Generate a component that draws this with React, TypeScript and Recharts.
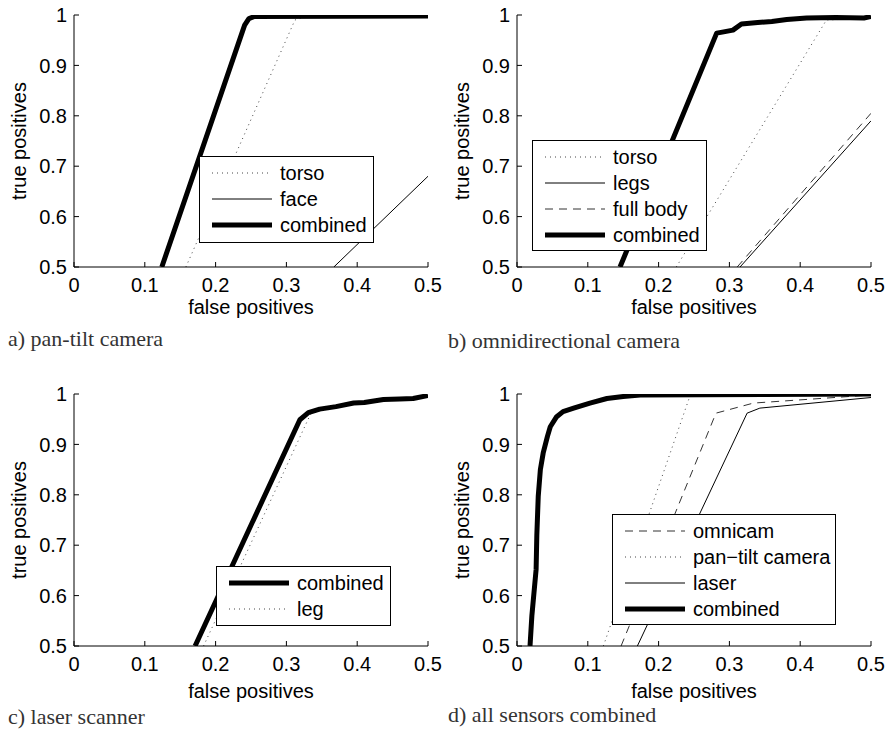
import React from 'react';
import { LineChart, Line, XAxis, YAxis, Legend, Label } from 'recharts';

type Pt = [number, number];

// a) pan-tilt camera  [false positives, true positives]
const aTorso: Pt[] = [[0.158, 0.5], [0.312, 0.99], [0.33, 0.998], [0.5, 0.998]];
const aFace: Pt[] = [[0.367, 0.5], [0.5, 0.68]];
const aCombined: Pt[] = [[0.124, 0.5], [0.241, 0.98], [0.247, 0.993], [0.255, 0.997], [0.5, 0.998]];

// b) omnidirectional camera
const bTorso: Pt[] = [[0.225, 0.5], [0.437, 0.99], [0.5, 0.994]];
const bLegs: Pt[] = [[0.315, 0.5], [0.5, 0.79]];
const bFullBody: Pt[] = [[0.311, 0.5], [0.5, 0.805]];
const bCombined: Pt[] = [
  [0.1455, 0.5], [0.282, 0.964], [0.29, 0.966], [0.305, 0.97], [0.317, 0.982], [0.34, 0.985],
  [0.36, 0.987], [0.381, 0.991], [0.409, 0.994], [0.45, 0.995], [0.49, 0.994], [0.5, 0.997],
];

// c) laser scanner
const cCombined: Pt[] = [
  [0.171, 0.5], [0.319, 0.949], [0.331, 0.963], [0.347, 0.97], [0.37, 0.975], [0.395, 0.982],
  [0.41, 0.983], [0.437, 0.989], [0.46, 0.99], [0.479, 0.991], [0.5, 0.997],
];
const cLeg: Pt[] = [[0.183, 0.5], [0.334, 0.96], [0.347, 0.97]];

// d) all sensors combined
const dOmnicam: Pt[] = [[0.147, 0.5], [0.281, 0.962], [0.334, 0.982], [0.5, 0.998]];
const dPanTilt: Pt[] = [[0.122, 0.5], [0.244, 0.995], [0.26, 0.999], [0.5, 0.999]];
const dLaser: Pt[] = [[0.17, 0.5], [0.325, 0.962], [0.343, 0.972], [0.5, 0.993]];
const dCombined: Pt[] = [
  [0.0184, 0.5], [0.021, 0.56], [0.027, 0.652], [0.028, 0.72], [0.03, 0.797], [0.033, 0.85],
  [0.037, 0.883], [0.043, 0.916], [0.047, 0.935], [0.056, 0.955], [0.065, 0.965], [0.08, 0.972],
  [0.103, 0.982], [0.127, 0.991], [0.15, 0.995], [0.174, 0.998], [0.5, 1.0],
];

const xTicks = [0, 0.1, 0.2, 0.3, 0.4, 0.5];
const yTicks = [0.5, 0.6, 0.7, 0.8, 0.9, 1];

type Kind = 'thick' | 'solid' | 'dotted' | 'dashed';
interface Series { name: string; points: Pt[]; kind: Kind; }

const strokeFor = (kind: Kind) => {
  switch (kind) {
    case 'thick': return { stroke: '#000', strokeWidth: 5 };
    case 'solid': return { stroke: '#000', strokeWidth: 1 };
    case 'dotted': return { stroke: '#444', strokeWidth: 1, strokeDasharray: '1 4' };
    case 'dashed': return { stroke: '#333', strokeWidth: 1, strokeDasharray: '8 6' };
  }
};

interface PanelProps {
  left: number;
  top: number;
  width: number;
  plotLeft: number;
  plotTop: number;
  titleOffset: number;
  captionTop: number;
  series: Series[];      // drawing order
  legendOrder: string[];
  legendBox: { left: number; top: number; width: number; height: number };
  caption: string;
}

const FONT = "'Liberation Sans', Arial, Helvetica, sans-serif";
const CHART_H = 362;
const PLOT_H = 252;
const X_AXIS_H = 40;

const makeXTitle = (offset: number) => (props: any) => {
  const { x, y, width } = props.viewBox;
  return (
    <text x={x + width / 2} y={y + offset} textAnchor="middle" fontSize={20} fill="#000" fontFamily={FONT}>
      false positives
    </text>
  );
};

const YTitle = (props: any) => {
  const { x, y, width, height } = props.viewBox;
  return (
    <text
      transform={`translate(${x + width - 48}, ${y + height / 2}) rotate(-90)`}
      textAnchor="middle"
      fontSize={20}
      fill="#000"
      fontFamily={FONT}
    >
      true positives
    </text>
  );
};

const Panel: React.FC<PanelProps> = ({
  left, top, width, plotLeft, plotTop, titleOffset, captionTop, series, legendOrder, legendBox, caption,
}) => {
  const plotRight = plotLeft + 354;
  const legendItems = legendOrder.map((n) => series.find((s) => s.name === n)!);

  const renderLegend = () => (
    <div
      style={{
        width: legendBox.width,
        height: legendBox.height,
        boxSizing: 'border-box',
        border: '1px solid #000',
        background: '#fff',
        paddingTop: 3,
        fontFamily: FONT,
      }}
    >
      {legendItems.map((s) => (
        <div key={s.name} style={{ display: 'flex', alignItems: 'center', height: 26 }}>
          <svg width={72} height={26} style={{ display: 'block' }}>
            <line x1={12} x2={72} y1={13} y2={13} {...strokeFor(s.kind)} />
          </svg>
          <span style={{ marginLeft: 8, fontSize: 20, lineHeight: '26px', color: '#000', whiteSpace: 'nowrap' }}>
            {s.name}
          </span>
        </div>
      ))}
    </div>
  );

  return (
    <div style={{ position: 'absolute', left, top }}>
      <LineChart
        width={width}
        height={CHART_H}
        margin={{ top: plotTop, right: width - plotRight, left: 0, bottom: CHART_H - plotTop - PLOT_H - X_AXIS_H }}
        style={{ fontFamily: FONT }}
      >
        <XAxis
          type="number"
          dataKey="x"
          domain={[0, 0.5]}
          ticks={xTicks}
          allowDataOverflow
          height={X_AXIS_H}
          stroke="#000"
          tickSize={-5}
          tickMargin={16}
          tick={{ fill: '#000', fontSize: 20 }}
        >
          <Label content={makeXTitle(titleOffset)} />
        </XAxis>
        <YAxis
          type="number"
          domain={[0.5, 1]}
          ticks={yTicks}
          allowDataOverflow
          width={plotLeft}
          stroke="#000"
          tickSize={-5}
          tickMargin={12}
          tick={{ fill: '#000', fontSize: 20 }}
        >
          <Label content={YTitle} />
        </YAxis>
        <Legend
          layout="vertical"
          align="center"
          verticalAlign="middle"
          content={renderLegend}
          wrapperStyle={{ left: legendBox.left, top: legendBox.top, width: legendBox.width, height: legendBox.height }}
        />
        {series.map((s) => (
          <Line
            key={s.name}
            name={s.name}
            data={s.points.map(([x, y]) => ({ x, y }))}
            dataKey="y"
            type="linear"
            dot={false}
            activeDot={false}
            strokeLinejoin="round"
            isAnimationActive={false}
            {...strokeFor(s.kind)}
          />
        ))}
      </LineChart>
      <div
        style={{
          position: 'absolute',
          left: 8,
          top: captionTop,
          fontFamily: "'Liberation Serif', 'Times New Roman', serif",
          fontSize: 22,
          color: '#333',
          whiteSpace: 'nowrap',
          lineHeight: 1,
        }}
      >
        {caption}
      </div>
    </div>
  );
};

export default function App() {
  return (
    <div style={{ position: 'absolute', left: 0, top: 0, width: 887, height: 735, background: '#fff', overflow: 'hidden' }}>
      <Panel
        left={0}
        top={0}
        width={450}
        plotLeft={74}
        plotTop={15}
        titleOffset={47}
        captionTop={328}
        series={[
          { name: 'torso', points: aTorso, kind: 'dotted' },
          { name: 'face', points: aFace, kind: 'solid' },
          { name: 'combined', points: aCombined, kind: 'thick' },
        ]}
        legendOrder={['torso', 'face', 'combined']}
        legendBox={{ left: 199, top: 156, width: 175, height: 87 }}
        caption="a) pan-tilt camera"
      />
      <Panel
        left={440}
        top={0}
        width={447}
        plotLeft={77}
        plotTop={15}
        titleOffset={47}
        captionTop={330}
        series={[
          { name: 'torso', points: bTorso, kind: 'dotted' },
          { name: 'legs', points: bLegs, kind: 'solid' },
          { name: 'full body', points: bFullBody, kind: 'dashed' },
          { name: 'combined', points: bCombined, kind: 'thick' },
        ]}
        legendOrder={['torso', 'legs', 'full body', 'combined']}
        legendBox={{ left: 92, top: 140, width: 175, height: 111 }}
        caption="b) omnidirectional camera"
      />
      <Panel
        left={0}
        top={370}
        width={450}
        plotLeft={74}
        plotTop={24}
        titleOffset={52}
        captionTop={336}
        series={[
          { name: 'leg', points: cLeg, kind: 'dotted' },
          { name: 'combined', points: cCombined, kind: 'thick' },
        ]}
        legendOrder={['combined', 'leg']}
        legendBox={{ left: 216, top: 196, width: 175, height: 60 }}
        caption="c) laser scanner"
      />
      <Panel
        left={440}
        top={370}
        width={447}
        plotLeft={77}
        plotTop={24}
        titleOffset={52}
        captionTop={334}
        series={[
          { name: 'omnicam', points: dOmnicam, kind: 'dashed' },
          { name: 'pan\u2212tilt camera', points: dPanTilt, kind: 'dotted' },
          { name: 'laser', points: dLaser, kind: 'solid' },
          { name: 'combined', points: dCombined, kind: 'thick' },
        ]}
        legendOrder={['omnicam', 'pan\u2212tilt camera', 'laser', 'combined']}
        legendBox={{ left: 172, top: 144, width: 224, height: 111 }}
        caption="d) all sensors combined"
      />
    </div>
  );
}
